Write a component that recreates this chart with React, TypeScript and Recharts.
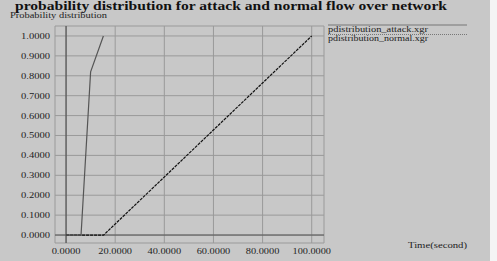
import { LineChart, Line, XAxis, YAxis, CartesianGrid, ReferenceLine, Legend } from "recharts";

const attackTime = [0, 6.1, 10.0, 15.2];
const attackProb = [0, 0, 0.82, 1.0];
const normalTime = [0, 15.3, 100];
const normalProb = [0, 0, 1.0];

const xTicks = [0, 20, 40, 60, 80, 100];
const yTicks = [0, 0.1, 0.2, 0.3, 0.4, 0.5, 0.6, 0.7, 0.8, 0.9, 1.0];

const title = "probability distribution for attack and normal flow over network";
const yLabel = "Probability distribution";
const xLabel = "Time(second)";

const attackData = attackTime.map((t, i) => ({ t, p: attackProb[i] }));
const normalData = normalTime.map((t, i) => ({ t, p: normalProb[i] }));

const serif = "'Liberation Serif', 'DejaVu Serif', serif";

const XTick = (props: any) => {
  const { x, payload } = props;
  const label = payload.value.toFixed(4);
  return (
    <text x={x} y={254} textAnchor="middle" fontFamily={serif} fontSize={8} fill="#222"
      textLength={label.length * 4.8} lengthAdjust="spacingAndGlyphs">
      {label}
    </text>
  );
};

const YTick = (props: any) => {
  const { y, payload } = props;
  const label = payload.value.toFixed(4);
  return (
    <text x={50} y={y + 3} textAnchor="end" fontFamily={serif} fontSize={8} fill="#222"
      textLength={29} lengthAdjust="spacingAndGlyphs">
      {label}
    </text>
  );
};

const LegendBox = () => (
  <svg width={150} height={20} style={{ display: "block" }}>
    <line x1={0} y1={1} x2={139} y2={1} stroke="#777" strokeWidth={1.2} />
    <text x={0} y={8} fontFamily={serif} fontSize={9} fill="#222" textLength={100} lengthAdjust="spacingAndGlyphs">
      pdistribution_attack.xgr
    </text>
    <line x1={0} y1={10.5} x2={139} y2={10.5} stroke="#777" strokeWidth={1} strokeDasharray="1 1" />
    <text x={0} y={17} fontFamily={serif} fontSize={9} fill="#222" textLength={100} lengthAdjust="spacingAndGlyphs">
      pdistribution_normal.xgr
    </text>
  </svg>
);

export default function App() {
  return (
    <div style={{ position: "absolute", left: 0, top: 0, width: 497, height: 261, background: "#c8c8c8", overflow: "hidden" }}>
      <div style={{ position: "absolute", left: 490, top: 0, width: 7, height: 261, background: "#f4f4f4" }} />
      <svg width={497} height={261} style={{ position: "absolute", left: 0, top: 0 }}>
        <text x={15} y={10} fontFamily={serif} fontWeight="bold" fontSize={11.5} fill="#111"
          textLength={432} lengthAdjust="spacingAndGlyphs">
          {title}
        </text>
        <text x={10} y={18} fontFamily={serif} fontSize={8} fill="#222" textLength={97} lengthAdjust="spacingAndGlyphs">
          {yLabel}
        </text>
        <text x={408} y={248} fontFamily={serif} fontSize={8} fill="#222" textLength={59} lengthAdjust="spacingAndGlyphs">
          {xLabel}
        </text>
      </svg>
      <div style={{ position: "absolute", left: 0, top: 0 }}>
        <LineChart width={497} height={261} margin={{ top: 26, right: 23, bottom: 0, left: 0 }}>
          <CartesianGrid stroke="#9a9a9a" strokeWidth={1} />
          <XAxis type="number" dataKey="t" domain={[-4.5, 105]} ticks={xTicks} allowDataOverflow
            height={18} axisLine={false} tickLine={false} tick={<XTick />} interval={0} />
          <YAxis type="number" dataKey="p" domain={[-0.04, 1.05]} ticks={yTicks} allowDataOverflow
            width={55} axisLine={false} tickLine={false} tick={<YTick />} interval={0} />
          <ReferenceLine x={0} stroke="#444" strokeWidth={1} />
          <ReferenceLine y={0} stroke="#555" strokeWidth={1} />
          <Legend layout="vertical" align="right" verticalAlign="top" content={<LegendBox />}
            wrapperStyle={{ left: 328, top: 24, width: 150 }} />
          <Line data={normalData} dataKey="p" name="pdistribution_normal.xgr" stroke="#111" strokeWidth={1.2}
            strokeDasharray="3 1" dot={false} type="linear" isAnimationActive={false} />
          <Line data={attackData} dataKey="p" name="pdistribution_attack.xgr" stroke="#555" strokeWidth={1.2}
            dot={false} type="linear" isAnimationActive={false} />
        </LineChart>
      </div>
    </div>
  );
}
